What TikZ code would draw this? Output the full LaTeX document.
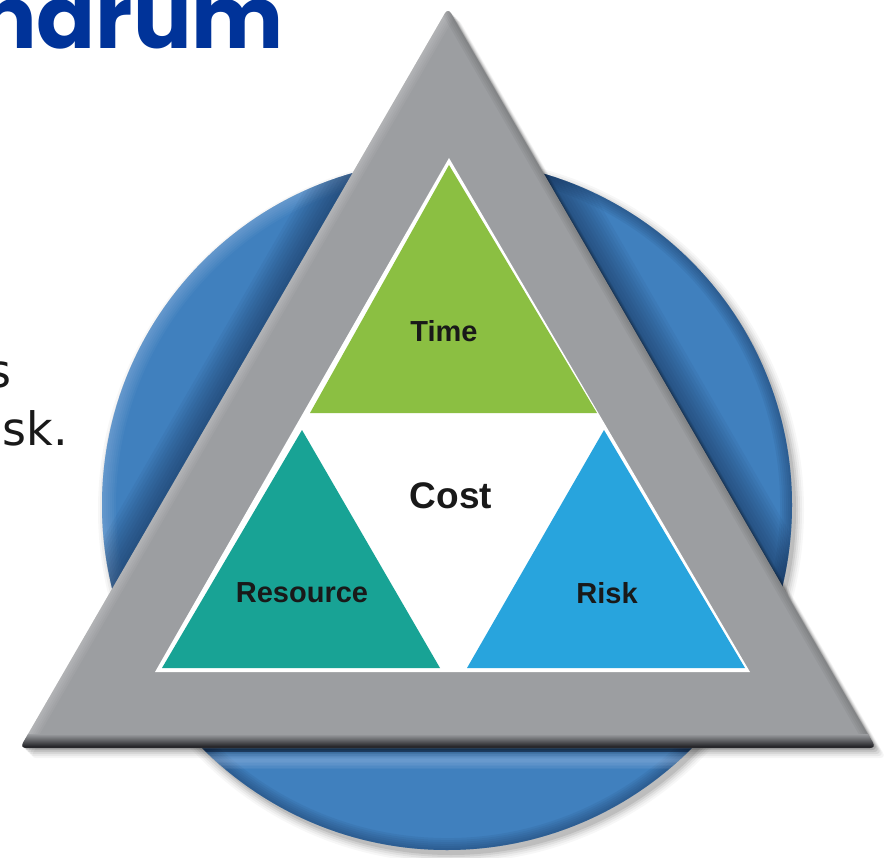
\documentclass[tikz,border=0pt]{standalone}
\usepackage{fontspec}
\setmainfont{Liberation Sans}
\newfontfamily\titlefont{Poppins}
\newfontfamily\bodyfont{DejaVu Sans}
\definecolor{titleblue}{RGB}{0,51,153}
\definecolor{discblue}{RGB}{64,128,190}
\definecolor{discdark}{RGB}{18,40,75}
\definecolor{disclight}{RGB}{175,200,235}
\definecolor{framegray}{RGB}{156,158,161}
\definecolor{framedark}{RGB}{40,40,44}
\definecolor{timegreen}{RGB}{139,191,66}
\definecolor{resteal}{RGB}{24,163,149}
\definecolor{riskblue}{RGB}{40,164,221}
\definecolor{labelink}{RGB}{25,25,25}
\tikzset{
  lbl/.style={font=\bfseries\fontsize{29}{29}\selectfont, text=labelink, inner sep=0},
  bigl/.style={font=\bfseries\fontsize{37}{37}\selectfont, text=labelink, inner sep=0},
  sidetext/.style={anchor=base east, text=labelink, font=\bodyfont\fontsize{46}{46}\selectfont, inner sep=0},
}
\begin{document}
\begin{tikzpicture}[x=1pt,y=-1pt]
\useasboundingbox (0,0) rectangle (888,858);
\clip (0,0) rectangle (888,858);
\fill[white] (0,0) rectangle (888,858);

% side text
\node[anchor=base east, text=titleblue, font=\titlefont\bfseries\fontsize{87}{87}\selectfont, inner sep=0] (title) at (284,49) {ndrum};
\node[sidetext] (l1) at (12,387) {s};
\node[sidetext] (l2) at (68,445) {sk.};

% disc shadow
\foreach \r/\o in {353/0.03,351/0.04,349/0.05,347/0.07,345/0.09}
  \fill[black,opacity=\o] (451,510) circle (\r);
% disc
\coordinate (dc) at (447,505);
\fill[discblue] (dc) circle (345);
\begin{scope}
  \clip (dc) circle (345);
  % light rim on upper left
  \foreach \w in {4,8,...,28}
    \draw[disclight,line width=\w,opacity=0.06] (dc) ++(160:345) arc (160:262:345);
  % dark rim along the bottom and right
  \foreach \w in {4,8,...,24}
    \draw[discdark,line width=\w,opacity=0.07] (dc) ++(-80:345) arc (-80:160:345);
  % frame shadow cast on disc (left and right edges)
  \foreach \w in {6,12,...,66}
    \draw[discdark,line width=\w,opacity=0.06,line join=round] (20,748) -- (448,8) -- (876,748);
  % bottom edge: dark line then light stripe
  \foreach \w in {3,6,...,18}
    \draw[disclight,line width=\w,opacity=0.08] (100,760) -- (800,760);
  \fill[discdark,opacity=0.6] (100,748) rectangle (800,752);
\end{scope}

% frame shadow on the background
\foreach \d/\o in {10/0.04,8/0.05,6/0.07,4/0.09,2/0.12}
  \fill[black,opacity=\o,rounded corners=6] (448+\d,8+\d) -- (20+\d,748+\d) -- (876+\d,748+\d) -- cycle;

% gray frame
\fill[framegray,rounded corners=6] (448,8) -- (20,748) -- (876,748) -- cycle;
\begin{scope}
  \clip[rounded corners=6] (448,8) -- (20,748) -- (876,748) -- cycle;
  \foreach \w in {4,8,...,20}
    \draw[white,line width=\w,opacity=0.05] (448,8) -- (20,748);
  \foreach \w in {4,8,...,16}
    \draw[black,line width=\w,opacity=0.04] (448,8) -- (876,748);
  \shade[top color=framegray,bottom color=framedark] (0,734) rectangle (888,746);
  \fill[framedark] (0,746) rectangle (888,750);
\end{scope}

% white inner triangle
\fill[white] (449,158) -- (155,672) -- (750,672) -- cycle;

% coloured triangles
\fill[timegreen] (449,165) -- (310,413) -- (597,413) -- cycle;
\fill[resteal] (302,430) -- (162,668) -- (440,668) -- cycle;
\fill[riskblue] (604,430) -- (467,668) -- (745,668) -- cycle;

% labels
\node[lbl] (time) at (444,331) {Time};
\node[bigl] (cost) at (451,496) {Cost};
\node[lbl] (res) at (302,593) {Resource};
\node[lbl] (risk) at (607,593) {Risk};
\end{tikzpicture}
\end{document}
